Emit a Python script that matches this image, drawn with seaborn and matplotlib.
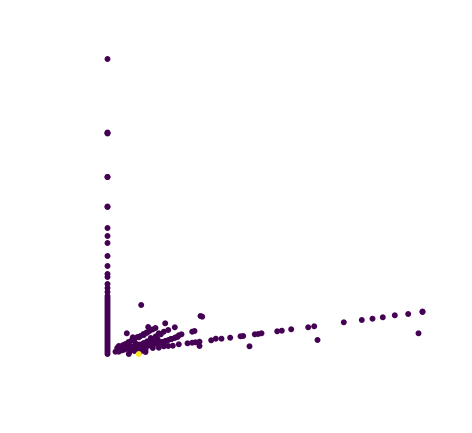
import pandas as pd
import seaborn as sns
import matplotlib.pyplot as plt

# column of points sitting on x = 0, top ones are stacked repeats
col_y = [295, 221, 221.5, 220.5, 177, 177, 147, 147.5, 126, 118, 111, 98, 88, 80, 77, 70, 66, 62, 58, 56, 54, 52,
         50, 48, 46, 44, 42, 40, 38, 36, 34, 32, 30, 28, 26, 24, 22, 20, 18, 16, 14, 12, 10, 8, 6, 4, 2, 0]

# long ray out to the right, plus the strays under it
far_x = [114, 122.7, 133, 135.7, 147.3, 150.7, 154, 169.7, 174.3, 183.7, 200.7, 206.7, 236.3, 254.3, 265, 275.3,
         287.3, 300.7, 315, 315, 142, 210, 311]
far_y = [15.3, 16.3, 17.7, 18, 19.7, 20, 20.7, 22.7, 23.3, 24.7, 26.7, 27.7, 31.7, 34, 35.3, 36.7, 38.7, 40, 42,
         42.5, 7.7, 14, 20.7]

# the fan near the origin
near_x = [33.7, 93, 94.7, 57.7, 40.7, 67.3, 19.3, 87, 84.7, 74, 71.3, 108.3, 103.7, 92, 88, 84.7, 80, 71.3, 92,
          65.3, 60.7, 56.3, 51.3, 45.3, 60.7, 56.3, 51.3, 39.7, 36.3, 31.3, 25.3, 26.3, 21.3, 16.3, 11.3, 8, 11.3,
          14.7, 18, 21.3, 24.7, 29.7, 34.7, 38, 43.3, 48.3, 53.3, 58.3, 63.3, 68.3, 43.3, 48.3, 53.3, 31.3, 36.3,
          39.7, 28, 23, 13, 9.7, 19.7,
          12, 15, 18, 21, 24, 27, 30, 33, 36, 39, 42, 45, 48, 23, 26, 29, 32, 35, 38, 41, 44, 47, 50, 34, 37, 40,
          43, 46, 49, 52, 55, 58, 61, 64, 67, 70, 22, 27, 33, 38, 17, 20]
near_y = [49, 38, 37.3, 30.7, 27, 26.7, 20.7, 23, 22.3, 19.7, 18.7, 15.3, 13.7, 12.3, 11.7, 11.3, 10.7, 9.7, 8,
          8.3, 8, 7.7, 6.3, 6, 24, 22.3, 20.7, 21.3, 19, 16.7, 16.7, 14, 10.7, 9, 8, 2.3, 2.3, 3.7, 5.7, 0, 4,
          4, 5.7, 4, 9.3, 11, 12, 13, 15, 16.7, 16, 17.7, 19.7, 9, 11, 12.7, 10.7, 7.7, 6, 6, 9,
          7, 8.5, 10, 12, 13.5, 15, 17, 18, 20, 21.5, 23, 24.5, 26, 6.5, 7.5, 8.5, 9.5, 10, 11, 12, 13, 14, 15,
          6.5, 7, 8, 8.5, 9.5, 10.5, 11, 12, 13, 14, 15, 16, 17, 2, 3, 2.5, 2, 4.5, 6]

# single point of the other class
other_x = [31.3]
other_y = [0]

x = [0] * len(col_y) + far_x + near_x + other_x
y = col_y + far_y + near_y + other_y
label = [0] * (len(col_y) + len(far_x) + len(near_x)) + [1] * len(other_x)

df = pd.DataFrame({'x': x, 'y': y, 'label': label})

fig, ax = plt.subplots(figsize=(4.72, 4.33), dpi=100)
ax.set_position([0, 0, 1, 1])
sns.scatterplot(data=df, x='x', y='y', hue='label', palette=['#440154', '#fde725'], s=18, linewidth=0, legend=False, ax=ax)
ax.set_xlim(-107.5, 364.5)
ax.set_ylim(-79, 354)
ax.axis('off')

fig.savefig('out.png', dpi=100)
